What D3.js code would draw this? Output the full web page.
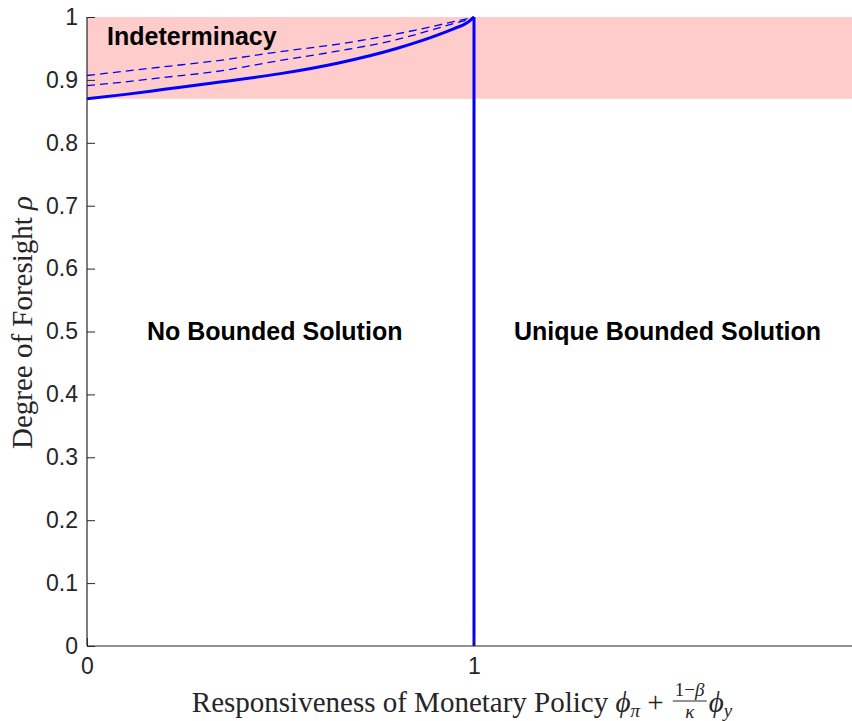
<!DOCTYPE html>
<html>
<head>
<meta charset="utf-8">
<script src="https://cdn.jsdelivr.net/npm/d3@7"></script>
<style>
  body { margin: 0; background: #fff; }
  svg { display: block; }
  text { white-space: pre; }
</style>
</head>
<body>
<div id="chart"></div>
<script>
// boundary curves
var xs = [0, 0.1, 0.2, 0.33, 0.5, 0.65, 0.8, 0.9, 0.95, 0.98, 1.0];
var rhoSolid = [0.870, 0.877, 0.885, 0.8955, 0.910, 0.927, 0.950, 0.970, 0.982, 0.990, 1.0];
var rhoDashHigh = [0.907, 0.914, 0.921, 0.930, 0.945, 0.957, 0.973, 0.986, 0.993, 0.997, 1.0];
var rhoDashLow = [0.891, 0.897, 0.904, 0.913, 0.931, 0.946, 0.964, 0.981, 0.990, 0.995, 1.0];

var bandLow = 0.87, bandHigh = 1;
var xTicks = [0, 1];
var yTicks = [0, 0.1, 0.2, 0.3, 0.4, 0.5, 0.6, 0.7, 0.8, 0.9, 1];

var regionLabels = [
  {text: "Indeterminacy", x: 0.052, y: 0.969, anchor: "start"},
  {text: "No Bounded Solution", x: 0.485, y: 0.5, anchor: "middle"},
  {text: "Unique Bounded Solution", x: 1.5, y: 0.5, anchor: "middle"}
];

var W = 852, H = 721;
var margin = {top: 17, left: 87};
var plotW = 774, plotH = 629;

var svg = d3.select("#chart").append("svg")
  .attr("width", W)
  .attr("height", H);

var g = svg.append("g")
  .attr("transform", "translate(" + margin.left + "," + margin.top + ")");

var x = d3.scaleLinear().domain([0, 2]).range([0, plotW]);
var y = d3.scaleLinear().domain([0, 1]).range([plotH, 0]);

// pink indeterminacy band
g.append("rect")
  .attr("x", x(0))
  .attr("y", y(bandHigh))
  .attr("width", x(2) - x(0))
  .attr("height", y(bandLow) - y(bandHigh))
  .attr("fill", "#ffcccc");

var line = d3.line()
  .x(function(d) { return x(d[0]); })
  .y(function(d) { return y(d[1]); })
  .curve(d3.curveMonotoneX);

[rhoDashHigh, rhoDashLow].forEach(function(s) {
  g.append("path")
    .datum(xs.map(function(v, i) { return [v, s[i]]; }))
    .attr("fill", "none")
    .attr("stroke", "#0000ff")
    .attr("stroke-width", 1.3)
    .attr("stroke-dasharray", "8,5")
    .attr("d", line);
});

g.append("path")
  .datum(xs.map(function(v, i) { return [v, rhoSolid[i]]; }))
  .attr("fill", "none")
  .attr("stroke", "#0000ff")
  .attr("stroke-width", 3)
  .attr("d", line);

// vertical boundary at 1
g.append("line")
  .attr("x1", x(1)).attr("x2", x(1))
  .attr("y1", y(0)).attr("y2", y(1))
  .attr("stroke", "#0000ff")
  .attr("stroke-width", 3);

// axes
var yAxis = g.append("g")
  .call(d3.axisLeft(y).tickValues(yTicks).tickSize(-8).tickPadding(9)
    .tickFormat(function(d) { return d3.format("")(+d.toFixed(1)); }));
var xAxis = g.append("g")
  .attr("transform", "translate(0," + plotH + ")")
  .call(d3.axisBottom(x).tickValues(xTicks).tickSize(-8).tickPadding(12).tickFormat(d3.format("d")));

[yAxis, xAxis].forEach(function(a) {
  a.select(".domain").attr("stroke", "#262626").attr("stroke-width", 1.2)
    .attr("d", a === yAxis ? "M0," + plotH + "V0" : "M0,0H" + plotW);
  a.selectAll(".tick line").attr("stroke", "#262626").attr("stroke-width", 1);
  a.selectAll(".tick text")
    .attr("fill", "#262626")
    .style("font-family", "'Liberation Sans', Arial, sans-serif")
    .style("font-size", "23px");
});

// region labels
g.selectAll(".region")
  .data(regionLabels)
  .enter().append("text")
  .attr("class", "region")
  .attr("x", function(d) { return x(d.x); })
  .attr("y", function(d) { return y(d.y); })
  .attr("dy", "0.35em")
  .attr("text-anchor", function(d) { return d.anchor; })
  .style("font-family", "'Liberation Sans', Arial, sans-serif")
  .style("font-weight", "bold")
  .style("font-size", "25px")
  .attr("fill", "#000")
  .text(function(d) { return d.text; });

// y label
var serif = "'Liberation Serif', 'DejaVu Serif', serif";
var yl = svg.append("text")
  .attr("transform", "translate(32," + (margin.top + plotH / 2 - 9) + ")rotate(-90)")
  .attr("text-anchor", "middle")
  .style("font-family", serif)
  .style("font-size", "29px")
  .attr("fill", "#262626");
yl.append("tspan").text("Degree of Foresight ");
yl.append("tspan").style("font-style", "italic").text("ρ");

// x label with fraction, built piece by piece
var base = 712;
var xl = svg.append("g").attr("fill", "#262626")
  .style("font-family", serif);
var cursor = 0;
function piece(txt, opts) {
  opts = opts || {};
  var t = xl.append("text")
    .attr("x", cursor + (opts.dx || 0))
    .attr("y", base + (opts.dy || 0))
    .style("font-size", (opts.size || 29) + "px")
    .style("font-style", opts.italic ? "italic" : "normal")
    .text(txt);
  var w = t.node().getComputedTextLength();
  cursor += w + (opts.dx || 0);
  return w;
}
piece("Responsiveness of Monetary Policy ");
piece("ϕ", {italic: true});
piece("π", {italic: true, size: 19, dy: 5});
piece(" + ");
// fraction
var fracStart = cursor + 2;
function measure(txt, italic) {
  var t = xl.append("text").style("font-size", "19px")
    .style("font-style", italic ? "italic" : "normal").text(txt);
  var w = t.node().getComputedTextLength(); t.remove(); return w;
}
var numW = measure("1−β", false);
var denW = measure("κ", true);
var fracW = Math.max(numW, denW) + 4;
var num = xl.append("text").attr("x", fracStart + (fracW - numW) / 2).attr("y", base - 16)
  .style("font-size", "19px");
num.append("tspan").text("1−");
num.append("tspan").style("font-style", "italic").text("β");
xl.append("line").attr("x1", fracStart).attr("x2", fracStart + fracW)
  .attr("y1", base - 11).attr("y2", base - 11)
  .attr("stroke", "#262626").attr("stroke-width", 1);
xl.append("text").attr("x", fracStart + (fracW - denW) / 2).attr("y", base + 6)
  .style("font-size", "19px").style("font-style", "italic").text("κ");
cursor = fracStart + fracW + 2;
piece("ϕ", {italic: true});
piece("y", {italic: true, size: 19, dy: 5});
var total = cursor;
xl.attr("transform", "translate(" + (462 - total / 2) + ",0)");
</script>
</body>
</html>
